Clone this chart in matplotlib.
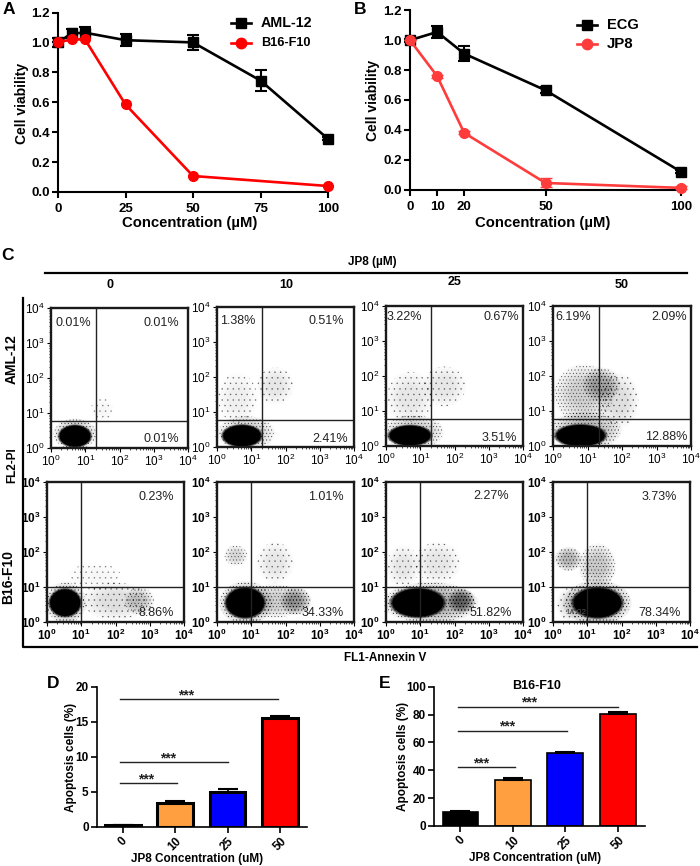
import math
import matplotlib
matplotlib.use("Agg")
import matplotlib.pyplot as plt
from matplotlib.patches import Ellipse
from matplotlib.ticker import FuncFormatter, LogLocator, NullFormatter

plt.rcParams['font.family'] = ['Liberation Sans', 'DejaVu Sans']
plt.rcParams['mathtext.fontset'] = 'custom'
plt.rcParams['mathtext.rm'] = 'Liberation Sans'
plt.rcParams['mathtext.bf'] = 'Liberation Sans:bold'
plt.rcParams['hatch.linewidth'] = 0.3

W, H = 700, 866

# panel A
conc_a = [0, 5, 10, 25, 50, 75, 100]
aml12 = [1.0, 1.06, 1.065, 1.015, 1.0, 0.745, 0.355]
aml12_err = [0.03, 0.03, 0.04, 0.04, 0.05, 0.07, 0.01]
conc_a_red = [0, 5, 10, 25, 50, 100]
b16f10 = [1.0, 1.02, 1.02, 0.585, 0.107, 0.04]

# panel B
conc_b = [0, 10, 20, 50, 100]
ecg = [1.0, 1.055, 0.91, 0.665, 0.12]
ecg_err = [0.01, 0.04, 0.05, 0.02, 0.01]
jp8 = [1.0, 0.76, 0.38, 0.045, 0.012]
jp8_err = [0.0, 0.01, 0.01, 0.03, 0.01]

# panels D, E
doses = ['0', '10', '25', '50']
bar_colors = ['black', '#ff9f40', '#0000ff', '#ff0000']
apop_aml = [0.2, 3.4, 5.0, 15.5]
apop_aml_err = [0.08, 0.25, 0.4, 0.25]
apop_b16 = [10, 33, 52.5, 80.7]
apop_b16_err = [0.8, 1.4, 0.9, 0.8]
sig_d = [(2.96, 18.2), (2.0, 9.2), (1.04, 6.2)]
sig_e = [(3.0, 85.6), (2.03, 68.2), (1.05, 42.1)]

# panel C, percent labels (UL, UR, LR)
pct_aml = [('0.01%', '0.01%', '0.01%'), ('1.38%', '0.51%', '2.41%'),
           ('3.22%', '0.67%', '3.51%'), ('6.19%', '2.09%', '12.88%')]
pct_b16 = [('0.23%', '8.86%'), ('1.01%', '34.33%'),
           ('2.27%', '51.82%'), ('3.73%', '78.34%')]

# dot clouds read by eye: log10 x, log10 y, radius x, radius y, darkness
clouds_aml = [
    [(1.5, 1.1, .35, .35, .04), (.7, .4, .65, .45, .4), (.7, .34, .45, .3, 1)],
    [(.6, 1.4, .6, .75, .12), (1.7, 1.75, .55, .55, .16), (.85, .4, .85, .5, .35), (.73, .32, .55, .3, 1)],
    [(.7, 1.4, .7, .75, .14), (1.7, 1.7, .65, .6, .14), (.8, .4, .9, .5, .35), (.7, .3, .6, .28, 1)],
    [(.9, 1.5, .9, .85, .28), (1.9, 1.3, .6, .8, .2), (1.4, 1.75, .55, .5, .45), (.95, .45, 1.05, .55, .45), (.8, .3, .7, .3, 1)],
]
clouds_b16 = [
    [(1.4, 1.3, .8, .4, .05), (2.0, .6, 1.0, .55, .18), (2.7, .6, .45, .4, .3), (.55, .55, .6, .6, .5), (.53, .55, .44, .38, 1)],
    [(.55, 1.9, .35, .3, .25), (1.7, 1.7, .55, .6, .14), (1.7, .6, .8, .5, .3), (2.3, .6, .45, .4, .6), (.85, .55, .8, .62, .55), (.82, .55, .55, .42, 1)],
    [(.5, 1.6, .5, .6, .14), (1.5, 1.7, .7, .6, .14), (1.3, .55, 1.4, .6, .55), (2.2, .6, .4, .35, .85), (.93, .55, .75, .4, 1)],
    [(.45, 1.8, .4, .35, .45), (1.3, 1.6, .55, .65, .35), (.5, .5, .4, .5, .2), (1.3, .55, 1.0, .65, .6), (1.3, .55, .7, .42, 1)],
]
gates_aml = (21, 6)
gates_b16 = (10, 10)

fig = plt.figure(figsize=(W / 100, H / 100), dpi=100)


def px_axes(left, top, right, bottom):
    return fig.add_axes([left / W, 1 - bottom / H, (right - left) / W, (bottom - top) / H])


def px_text(x, y, s, **kw):
    kw.setdefault('ha', 'center')
    kw.setdefault('va', 'center')
    fig.text(x / W, 1 - y / H, s, **kw)


def line_panel(box, xs, xticks, black, black_err, xs_red, red, red_err, red_color):
    ax = px_axes(*box)
    ax.errorbar(xs_red, red, yerr=red_err, color=red_color, lw=1.9, marker='o', ms=7,
                elinewidth=1.5, capsize=4, clip_on=False, zorder=3)
    ax.errorbar(xs, black, yerr=black_err, color='black', lw=1.9, marker='s', ms=7.5,
                elinewidth=1.5, capsize=4.5, capthick=1.5, clip_on=False, zorder=2)
    ax.set_xlim(0, 100)
    ax.set_ylim(0, 1.2)
    ax.set_xticks(xticks)
    ax.set_yticks([0, .2, .4, .6, .8, 1.0, 1.2])
    ax.set_yticklabels(['0.0', '0.2', '0.4', '0.6', '0.8', '1.0', '1.2'])
    ax.tick_params(width=1.5, length=4, labelsize=9.5, pad=2)
    ax.tick_params(axis='x', pad=4)
    for t in ax.get_xticklabels() + ax.get_yticklabels():
        t.set_fontweight('bold')
    ax.spines['top'].set_visible(False)
    ax.spines['right'].set_visible(False)
    ax.spines['left'].set_linewidth(1.5)
    ax.spines['bottom'].set_linewidth(1.5)
    return ax


ax_a = line_panel((58, 12.5, 328, 192), conc_a, [0, 25, 50, 75, 100], aml12, aml12_err,
                  conc_a_red, b16f10, None, '#ff0000')
ax_b = line_panel((410, 10.3, 681, 189.7), conc_b, [0, 10, 20, 50, 100], ecg, ecg_err,
                  conc_b, jp8, jp8_err, '#ff3c3c')

# legends drawn by hand
for x0, x1, tx, y, name, col, mk, size in [
        (231, 251, 261, 22.7, 'AML-12', 'black', 's', 10.3), (231, 251, 261, 43, 'B16-F10', '#ff0000', 'o', 9.2),
        (577, 597, 607, 25, 'ECG', 'black', 's', 10.5), (577, 597, 607, 44, 'JP8', '#ff3c3c', 'o', 10.8)]:
    fig.add_artist(plt.Line2D([x0 / W, x1 / W], [1 - y / H] * 2, color=col, lw=1.9))
    fig.add_artist(plt.Line2D([(x0 + x1) / 2 / W], [1 - y / H], color=col, marker=mk, ms=7.5))
    px_text(tx, y, name, ha='left', fontsize=size, fontweight='bold')

px_text(22, 103, 'Cell viability', rotation=90, fontsize=10, fontweight='bold')
px_text(373, 100, 'Cell viability', rotation=90, fontsize=10, fontweight='bold')
px_text(189.5, 223, 'Concentration (µM)', fontsize=10.7, fontweight='bold')
px_text(543, 223, 'Concentration (µM)', fontsize=10.7, fontweight='bold')

for x, y, s in [(9, 10, 'A'), (360, 10, 'B'), (7, 255, 'C'), (53, 684, 'D'), (385, 683, 'E')]:
    px_text(x, y, s, fontsize=12.5, fontweight='bold')


def flow_panel(box, clouds, gate, bold):
    ax = px_axes(*box)
    ax.set_xscale('log')
    ax.set_yscale('log')
    ax.set_xlim(1, 1e4)
    ax.set_ylim(1, 1e4)
    for cx, cy, rx, ry, dark in clouds:
        xy = (cx / 4, cy / 4)
        if dark >= 1:
            # dense core, fuzzy rim
            for f, a in [(1.12, .35), (1.06, .5), (1.0, 1)]:
                ax.add_patch(Ellipse(xy, 2 * rx * f / 4, 2 * ry * f / 4, transform=ax.transAxes,
                                     facecolor='black', edgecolor='none', alpha=a))
            continue
        # smooth grey under a stipple
        n = 8
        a = 1 - (1 - dark * .6) ** (1 / n)
        for i in range(n):
            f = 1 - i * .08
            ax.add_patch(Ellipse(xy, 2 * rx * f / 4, 2 * ry * f / 4, transform=ax.transAxes,
                                 facecolor='black', edgecolor='none', alpha=a))
        ax.add_patch(Ellipse(xy, 2 * rx * .95 / 4, 2 * ry * .95 / 4, transform=ax.transAxes, facecolor='none',
                             edgecolor='black', linewidth=0, hatch='.....' if dark > .2 else '...',
                             alpha=min(1, .35 + dark)))
    ax.axvline(gate[0], color='#222222', lw=1)
    ax.axhline(gate[1], color='#222222', lw=1)
    for s in ax.spines.values():
        s.set_linewidth(1.7)
        s.set_color('#1a1a1a')
    ax.tick_params(axis='both', which='major', length=3, width=.8, pad=1.5, labelsize=8.5)
    ax.tick_params(axis='both', which='minor', length=1.5, width=.5)
    ax.xaxis.set_major_locator(LogLocator(10, numticks=6))
    ax.yaxis.set_major_locator(LogLocator(10, numticks=6))
    ax.xaxis.set_minor_locator(LogLocator(10, subs=range(2, 10), numticks=6))
    ax.yaxis.set_minor_locator(LogLocator(10, subs=range(2, 10), numticks=6))
    ax.xaxis.set_minor_formatter(NullFormatter())
    ax.yaxis.set_minor_formatter(NullFormatter())
    style = r'$\mathbf{10^{%d}}$' if bold else r'$\mathregular{10^{%d}}$'
    fmt = FuncFormatter(lambda v, p: style % round(math.log10(v)))
    ax.xaxis.set_major_formatter(fmt)
    ax.yaxis.set_major_formatter(fmt)
    return ax


boxes_aml = [(51, 308, 188, 448), (217, 307, 354, 447), (386, 306, 523, 446), (553, 306, 691, 446)]
boxes_b16 = [(47, 482, 184, 622), (217, 482, 354, 622), (386, 482, 523, 622), (553, 482, 690, 622)]
for box, cl in zip(boxes_aml, clouds_aml):
    flow_panel(box, cl, gates_aml, False)
for box, cl in zip(boxes_b16, clouds_b16):
    flow_panel(box, cl, gates_b16, True)

pos_aml = [(55, 323, 179, 323, 179, 439), (220, 321, 344, 321, 348, 439),
           (387, 317, 519, 317, 517, 438), (555, 317, 687, 317, 687, 437)]
for (ul, ur, lr), (x1, y1, x2, y2, x3, y3) in zip(pct_aml, pos_aml):
    px_text(x1, y1, ul, ha='left', fontsize=9, color='#222222')
    px_text(x2, y2, ur, ha='right', fontsize=9, color='#222222')
    px_text(x3, y3, lr, ha='right', fontsize=9, color='#222222')
pos_b16 = [(174, 497, 174, 613), (344, 497, 344, 613), (509, 496, 512, 613), (677, 497, 681, 613)]
for (ur, lr), (x2, y2, x3, y3) in zip(pct_b16, pos_b16):
    px_text(x2, y2, ur, ha='right', fontsize=9, color='#222222')
    px_text(x3, y3, lr, ha='right', fontsize=9, color='#222222')
px_text(565, 613, '14.02', ha='left', fontsize=6, color='#555555')

# frame round panel C
fig.add_artist(plt.Line2D([45 / W, 687 / W], [1 - 272.7 / H] * 2, color='black', lw=1.6))
fig.add_artist(plt.Line2D([23 / W, 23 / W, 697 / W], [1 - 298 / H, 1 - 647 / H, 1 - 647 / H], color='black', lw=1.6))
px_text(372, 262, 'JP8 (µM)', fontsize=8.5, fontweight='bold')
for x, y, s in [(110, 285, '0'), (286, 285, '10'), (455, 282, '25'), (622, 285, '50')]:
    px_text(x, y, s, fontsize=9, fontweight='bold')
px_text(12, 359, 'AML-12', rotation=90, fontsize=10, fontweight='bold')
px_text(12, 465, 'FL2-PI', rotation=90, fontsize=8.5, fontweight='bold')
px_text(8, 577, 'B16-F10', rotation=90, fontsize=10, fontweight='bold')
px_text(385, 658, 'FL1-Annexin V', fontsize=8.5, fontweight='bold')


def bar_panel(box, xlim, ylim, yticks, vals, errs, sig, edge, star_x):
    ax = px_axes(*box)
    ax.bar(range(4), vals, width=.68, color=bar_colors, edgecolor='black', linewidth=edge,
           yerr=[[0] * 4, errs], error_kw=dict(ecolor='black', elinewidth=1.2, capsize=7, capthick=1.5))
    ax.set_xlim(*xlim)
    ax.set_ylim(*ylim)
    ax.set_xticks(range(4))
    ax.set_xticklabels(doses, rotation=45, ha='center', rotation_mode='default')
    ax.set_yticks(yticks)
    ax.tick_params(width=1.2, length=4, labelsize=8.5, pad=2)
    for t in ax.get_xticklabels() + ax.get_yticklabels():
        t.set_fontweight('bold')
    ax.spines['top'].set_visible(False)
    ax.spines['right'].set_visible(False)
    ax.spines['left'].set_linewidth(1.2)
    ax.spines['bottom'].set_linewidth(1.2)
    for (x1, y), sx in zip(sig, star_x):
        ax.plot([-.05, x1], [y, y], color='#222222', lw=1)
        ax.annotate('***', (sx, y), xytext=(0, 3), textcoords='offset points', ha='center', va='center',
                    fontsize=10, fontweight='bold', color='#222222')
    return ax


bar_panel((97, 686.7, 306.7, 826.7), (-.49, 3.51), (0, 20), [0, 5, 10, 15, 20],
          apop_aml, apop_aml_err, sig_d, 2.2, [1.21, .87, .44])
bar_panel((434, 686.7, 645, 826), (-.504, 3.52), (0, 100), [0, 20, 40, 60, 80, 100],
          apop_b16, apop_b16_err, sig_e, 1.2, [1.31, .89, .39])

px_text(71, 757, 'Apoptosis cells (%)', rotation=90, fontsize=8.5, fontweight='bold')
px_text(403, 756, 'Apoptosis cells (%)', rotation=90, fontsize=8.5, fontweight='bold')
px_text(197, 859, 'JP8 Concentration (uM)', fontsize=8.5, fontweight='bold')
px_text(535, 858, 'JP8 Concentration (uM)', fontsize=8.5, fontweight='bold')
px_text(537, 686, 'B16-F10', fontsize=9, fontweight='bold')

fig.savefig('out.png', dpi=100)
